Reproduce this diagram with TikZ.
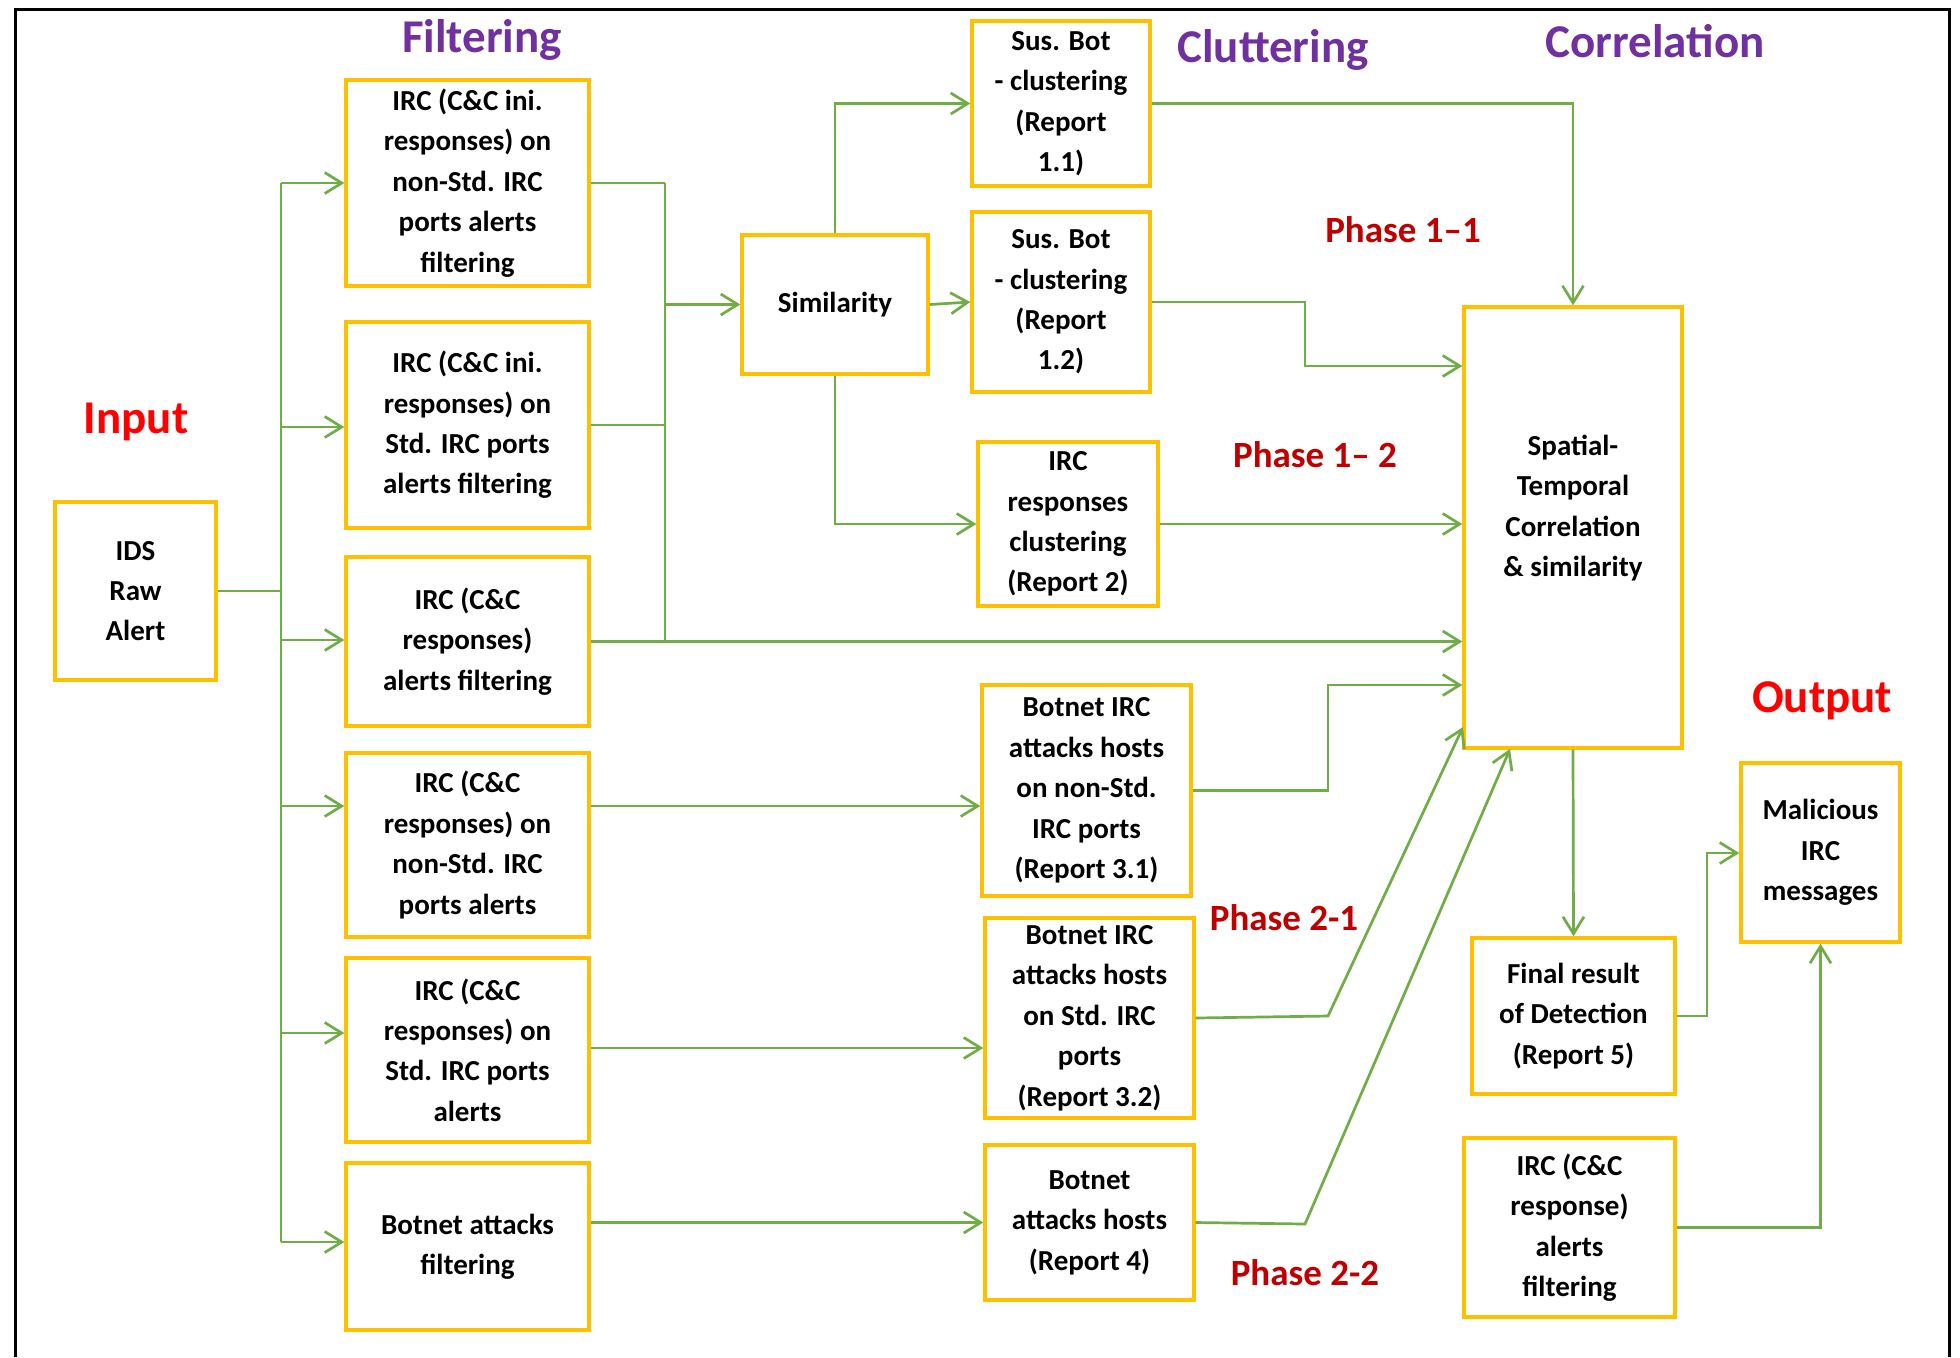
\documentclass[tikz,border=0pt]{standalone}
\usepackage{fontspec}
\setmainfont{Carlito}
\usetikzlibrary{arrows.meta}
\definecolor{boxgold}{HTML}{FFC000}
\definecolor{lgreen}{HTML}{70AD47}
\definecolor{ttlpurple}{HTML}{7030A0}
\definecolor{ttlred}{HTML}{FF0000}
\definecolor{phred}{HTML}{C00000}
\begin{document}
\begin{tikzpicture}[x=0.5pt,y=-0.5pt,
  blk/.style={draw=boxgold, line width=1.7pt, align=center, inner sep=0pt, text=black,
    font=\bfseries\fontsize{14.5}{20.2}\selectfont},
  ln/.style={draw=lgreen, line width=1.35pt},
  arr/.style={ln, -{Straight Barb[length=8.5pt,width=10.5pt]}},
  ttl/.style={font=\bfseries\fontsize{23.5}{28}\selectfont, anchor=base, inner sep=0pt},
  phase/.style={font=\bfseries\fontsize{18.5}{22}\selectfont, text=phred, anchor=base, inner sep=0pt}]
\useasboundingbox (0,0) rectangle (1960,1357);
\fill[white] (0,0) rectangle (1960,1357);
% frame
\draw[line width=1.5pt] (15,1357) -- (15,9) -- (1949,9) -- (1949,1357);

% titles
\node[ttl, text=ttlpurple] (tfilt) at (482,52) {Filtering};
\node[ttl, text=ttlpurple] (tclut) at (1273,62) {Cluttering};
\node[ttl, text=ttlpurple] (tcorr) at (1655,57) {Correlation};
\node[ttl, text=ttlred] (tin) at (136,433) {Input};
\node[ttl, text=ttlred] (tout) at (1822,712) {Output};
\node[phase] (p11) at (1403,242) {Phase 1–1};
\node[phase] (p12) at (1315,467) {Phase 1– 2};
\node[phase] (p21) at (1284,930) {Phase 2-1};
\node[phase] (p22) at (1305,1285) {Phase 2-2};

% boxes
\node[blk, minimum width=80.5pt, minimum height=89pt] (ids) at (135.5,591) {IDS\\Raw\\Alert};
\node[blk, minimum width=121.5pt, minimum height=103pt] (f1) at (467.5,183) {IRC (C\&C ini.\\responses) on\\non-Std. IRC\\ports alerts\\filtering};
\node[blk, minimum width=121.5pt, minimum height=103pt] (f2) at (467.5,425) {IRC (C\&C ini.\\responses) on\\Std. IRC ports\\alerts filtering};
\node[blk, minimum width=121.5pt, minimum height=84.5pt] (f3) at (467.5,641.5) {IRC (C\&C\\responses)\\alerts filtering};
\node[blk, minimum width=121.5pt, minimum height=92pt] (f4) at (467.5,845) {IRC (C\&C\\responses) on\\non-Std. IRC\\ports alerts};
\node[blk, minimum width=121.5pt, minimum height=92pt] (f5) at (467.5,1050) {IRC (C\&C\\responses) on\\Std. IRC ports\\alerts};
\node[blk, minimum width=121.5pt, minimum height=83.5pt] (f6) at (467.5,1246.5) {Botnet attacks\\filtering};
\node[blk, minimum width=93pt, minimum height=69.5pt] (sim) at (835,304.5) {Similarity};
\node[blk, minimum width=89pt, minimum height=82.5pt] (sus1) at (1061,103.5) {Sus. Bot\\- clustering\\(Report\\1.1)};
\node[blk, minimum width=89pt, minimum height=90pt] (sus2) at (1061,302) {Sus. Bot\\- clustering\\(Report\\1.2)};
\node[blk, minimum width=90pt, minimum height=82pt] (r2) at (1068,524) {IRC\\responses\\clustering\\(Report 2)};
\node[blk, minimum width=104.5pt, minimum height=105.5pt] (r31) at (1086.5,790.5) {Botnet IRC\\attacks hosts\\on non-Std.\\IRC ports\\(Report 3.1)};
\node[blk, minimum width=104.5pt, minimum height=100pt] (r32) at (1089.5,1018) {Botnet IRC\\attacks hosts\\on Std. IRC\\ports\\(Report 3.2)};
\node[blk, minimum width=104.5pt, minimum height=77.5pt] (r4) at (1089.5,1222.5) {Botnet\\attacks hosts\\(Report 4)};
\node[blk, minimum width=109pt, minimum height=220.5pt] (corr) at (1573,527.5) {};
\node[align=center, inner sep=0pt, font=\bfseries\fontsize{14.5}{20.2}\selectfont] (corrtxt) at (1573,508) {Spatial-\\Temporal\\Correlation\\\& similarity};
\node[blk, minimum width=101.5pt, minimum height=78pt] (final) at (1573.5,1016) {Final result\\of Detection\\(Report 5)};
\node[blk, minimum width=79.5pt, minimum height=89.5pt] (mal) at (1820.5,852.5) {Malicious\\IRC\\messages};
\node[blk, minimum width=105.5pt, minimum height=89.5pt] (fr) at (1569.5,1227.5) {IRC (C\&C\\response)\\alerts\\filtering};

% left bus
\coordinate (bT) at (281,183);
\coordinate (bB) at (281,1242);
\coordinate (b2) at (281,427);
\coordinate (b3) at (281,640);
\coordinate (b4) at (281,806);
\coordinate (b5) at (281,1033);
\draw[ln] (ids.east) -- (ids.east -| bT);
\draw[ln] (bT) -- (bB);
\draw[arr] (bT) -- (bT -| f1.west);
\draw[arr] (b2) -- (b2 -| f2.west);
\draw[arr] (b3) -- (b3 -| f3.west);
\draw[arr] (b4) -- (b4 -| f4.west);
\draw[arr] (b5) -- (b5 -| f5.west);
\draw[arr] (bB) -- (bB -| f6.west);

% middle bus
\coordinate (mT) at (665,183);
\coordinate (mB) at (665,642);
\coordinate (mS) at (665,304.5);
\draw[ln] (f1.east) -- (f1.east -| mT);
\draw[ln] (f2.east) -- (f2.east -| mT);
\draw[ln] (mT) -- (mB);
\draw[arr] (mS) -- (sim.west);
\draw[arr] (f3.east) -- (f3.east -| corr.west);

% similarity outputs
\draw[arr] (sim.north) |- (sus1.west);
\draw[arr] (sim.east) -- (sus2.west);
\draw[arr] (sim.south) |- (r2.west);

% to correlation
\coordinate (k2) at (1305,366);
\coordinate (k4) at (1328,685);
\coordinate (k5) at (1328,1016);
\coordinate (t5) at (1463,727);
\coordinate (k6) at (1305,1224);
\coordinate (t6) at (1510,749);
\draw[arr] (sus1.east) -| (corr.north);
\draw[arr] (sus2.east) -| (k2) -- (k2 -| corr.west);
\draw[arr] (r2.east) -- (r2.east -| corr.west);
\draw[arr] (r31.east) -| (k4) -- (k4 -| corr.west);
\draw[arr] (r32.east) -- (k5) -- (t5);
\draw[arr] (r4.east) -- (k6) -- (t6);

% filtering to reports
\coordinate (p5) at (600,1048);
\draw[arr] (b4 -| f4.east) -- (b4 -| r31.west);
\draw[arr] (p5 -| f5.east) -- (p5 -| r32.west);
\draw[arr] (f6.east |- r4.west) -- (r4.west);

% outputs
\coordinate (k7) at (1707,853);
\draw[arr] (corr.south) -- (final.north);
\draw[arr] (final.east) -| (k7) -- (k7 -| mal.west);
\draw[arr] (fr.east) -| (mal.south);
\end{tikzpicture}
\end{document}
